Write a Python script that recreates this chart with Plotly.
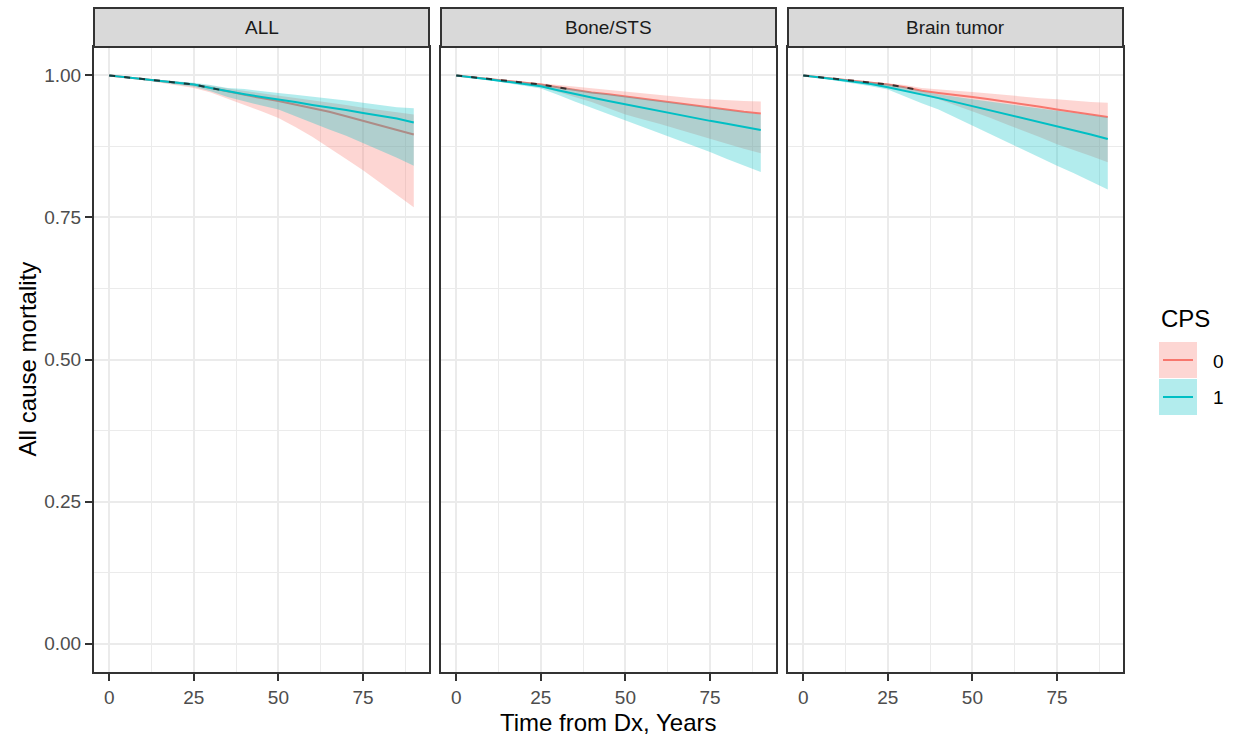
import plotly.graph_objects as go

# ---------------- data ----------------
time_years = [0, 5, 10, 15, 20, 25, 30, 35, 40, 45, 50, 55, 60, 65, 70, 75, 80, 85, 90]
panel_names = ["ALL", "Bone/STS", "Brain tumor"]
cps_levels = ["0", "1"]
x_ticks = [0, 25, 50, 75]
y_ticks = [0.0, 0.25, 0.5, 0.75, 1.0]
y_tick_labels = ["0.00", "0.25", "0.50", "0.75", "1.00"]

all_cps0_est = [1.000, 0.997, 0.993, 0.990, 0.987, 0.984, 0.978, 0.972, 0.965, 0.960, 0.955, 0.949, 0.943, 0.936, 0.928, 0.920, 0.912, 0.905, 0.896]
all_cps0_lo = [1.000, 0.996, 0.992, 0.988, 0.983, 0.978, 0.970, 0.958, 0.948, 0.937, 0.925, 0.909, 0.892, 0.873, 0.853, 0.833, 0.812, 0.790, 0.768]
all_cps0_hi = [1.000, 0.998, 0.995, 0.992, 0.989, 0.986, 0.982, 0.977, 0.973, 0.969, 0.965, 0.961, 0.957, 0.953, 0.948, 0.943, 0.939, 0.935, 0.931]
all_cps1_est = [1.000, 0.997, 0.993, 0.990, 0.987, 0.984, 0.978, 0.972, 0.967, 0.962, 0.958, 0.953, 0.948, 0.944, 0.939, 0.934, 0.929, 0.924, 0.917]
all_cps1_lo = [1.000, 0.996, 0.992, 0.988, 0.984, 0.980, 0.972, 0.962, 0.954, 0.947, 0.940, 0.929, 0.917, 0.905, 0.894, 0.882, 0.868, 0.855, 0.841]
all_cps1_hi = [1.000, 0.998, 0.995, 0.992, 0.990, 0.987, 0.983, 0.978, 0.976, 0.972, 0.969, 0.966, 0.963, 0.960, 0.956, 0.952, 0.948, 0.944, 0.942]

bone_cps0_est = [1.000, 0.997, 0.993, 0.990, 0.987, 0.984, 0.979, 0.974, 0.970, 0.967, 0.963, 0.960, 0.956, 0.952, 0.948, 0.944, 0.940, 0.936, 0.933]
bone_cps0_lo = [1.000, 0.996, 0.992, 0.988, 0.984, 0.980, 0.971, 0.962, 0.953, 0.942, 0.931, 0.923, 0.915, 0.906, 0.897, 0.888, 0.880, 0.871, 0.863]
bone_cps0_hi = [1.000, 0.998, 0.995, 0.992, 0.989, 0.987, 0.983, 0.980, 0.977, 0.974, 0.972, 0.969, 0.966, 0.963, 0.960, 0.958, 0.956, 0.955, 0.954]
bone_cps1_est = [1.000, 0.997, 0.993, 0.989, 0.985, 0.981, 0.974, 0.967, 0.961, 0.955, 0.949, 0.943, 0.937, 0.932, 0.926, 0.920, 0.915, 0.909, 0.904]
bone_cps1_lo = [1.000, 0.996, 0.991, 0.987, 0.982, 0.977, 0.966, 0.954, 0.943, 0.931, 0.920, 0.909, 0.899, 0.888, 0.876, 0.865, 0.853, 0.841, 0.830]
bone_cps1_hi = [1.000, 0.998, 0.995, 0.991, 0.988, 0.985, 0.980, 0.975, 0.971, 0.967, 0.963, 0.960, 0.956, 0.952, 0.948, 0.943, 0.939, 0.935, 0.931]

brain_cps0_est = [1.000, 0.997, 0.993, 0.990, 0.987, 0.984, 0.979, 0.973, 0.969, 0.966, 0.962, 0.958, 0.954, 0.950, 0.945, 0.940, 0.935, 0.931, 0.927]
brain_cps0_lo = [1.000, 0.996, 0.992, 0.988, 0.984, 0.980, 0.974, 0.966, 0.958, 0.948, 0.937, 0.926, 0.914, 0.902, 0.891, 0.879, 0.868, 0.858, 0.847]
brain_cps0_hi = [1.000, 0.998, 0.995, 0.992, 0.989, 0.987, 0.983, 0.978, 0.975, 0.973, 0.971, 0.968, 0.966, 0.963, 0.960, 0.958, 0.955, 0.953, 0.952]
brain_cps1_est = [1.000, 0.997, 0.993, 0.989, 0.985, 0.979, 0.973, 0.966, 0.960, 0.953, 0.946, 0.939, 0.932, 0.925, 0.917, 0.910, 0.903, 0.896, 0.888]
brain_cps1_lo = [1.000, 0.996, 0.991, 0.986, 0.981, 0.975, 0.963, 0.951, 0.940, 0.926, 0.911, 0.897, 0.883, 0.869, 0.855, 0.841, 0.828, 0.814, 0.799]
brain_cps1_hi = [1.000, 0.998, 0.995, 0.991, 0.988, 0.985, 0.979, 0.972, 0.967, 0.962, 0.958, 0.954, 0.950, 0.946, 0.941, 0.937, 0.933, 0.929, 0.926]

series = {
    "ALL": {"0": (all_cps0_est, all_cps0_lo, all_cps0_hi), "1": (all_cps1_est, all_cps1_lo, all_cps1_hi)},
    "Bone/STS": {"0": (bone_cps0_est, bone_cps0_lo, bone_cps0_hi), "1": (bone_cps1_est, bone_cps1_lo, bone_cps1_hi)},
    "Brain tumor": {"0": (brain_cps0_est, brain_cps0_lo, brain_cps0_hi), "1": (brain_cps1_est, brain_cps1_lo, brain_cps1_hi)},
}

# ---------------- style ----------------
W, H = 1236, 738
FONT = "Liberation Sans, Arial, sans-serif"
line_colors = {"0": "#F8766D", "1": "#00BFC4"}
fill_colors = {"0": "rgba(248,118,109,0.3)", "1": "rgba(0,191,196,0.3)"}
panel_px = [(94, 429), (441, 776), (788, 1123)]
plot_top_px, plot_bot_px = 47, 672
strip_top_px = 8


def px_x(p):
    return p / W


def px_y(p):
    return (H - p) / H


fig = go.Figure()
layout_axes = {}
annotations = []
shapes = []

for i, name in enumerate(panel_names):
    xa = "x" if i == 0 else f"x{i+1}"
    ya = "y" if i == 0 else f"y{i+1}"
    for lvl in cps_levels:
        est, lo, hi = series[name][lvl]
        fig.add_trace(go.Scatter(
            x=time_years + time_years[::-1], y=hi + lo[::-1], fill="toself",
            fillcolor=fill_colors[lvl], line=dict(width=0), mode="lines",
            hoverinfo="skip", showlegend=False, xaxis=xa, yaxis=ya))
        fig.add_trace(go.Scatter(
            x=time_years, y=est, mode="lines", line=dict(color=line_colors[lvl], width=2),
            name=lvl, showlegend=False, xaxis=xa, yaxis=ya))
    # dark dashes seen at early follow-up
    est0 = series[name]["0"][0]
    fig.add_trace(go.Scatter(
        x=time_years[:8], y=est0[:8], mode="lines",
        line=dict(color="rgba(25,25,25,0.8)", width=2, dash="6px,9px"),
        hoverinfo="skip", showlegend=False, xaxis=xa, yaxis=ya))

    x0, x1 = panel_px[i]
    xkey = "xaxis" if i == 0 else f"xaxis{i+1}"
    ykey = "yaxis" if i == 0 else f"yaxis{i+1}"
    layout_axes[xkey] = dict(
        domain=[px_x(x0), px_x(x1)], range=[-4.5, 94.5], anchor=ya,
        tickvals=x_ticks, ticks="outside", ticklen=7, tickwidth=2, tickcolor="#333333",
        showline=True, mirror=True, linecolor="#333333", linewidth=2,
        showgrid=True, gridcolor="#EBEBEB", gridwidth=2, zeroline=False,
        minor=dict(tickvals=[12.5, 37.5, 62.5, 87.5], showgrid=True, gridcolor="#EBEBEB", gridwidth=1),
        tickfont=dict(size=19, color="#4D4D4D", family=FONT), fixedrange=True)
    layout_axes[ykey] = dict(
        domain=[px_y(plot_bot_px), px_y(plot_top_px)], range=[-0.05, 1.05], anchor=xa,
        tickvals=y_ticks, ticktext=y_tick_labels, showticklabels=(i == 0),
        ticks="outside" if i == 0 else "", ticklen=7, tickwidth=2, tickcolor="#333333",
        showline=True, mirror=True, linecolor="#333333", linewidth=2,
        showgrid=True, gridcolor="#EBEBEB", gridwidth=2, zeroline=False,
        minor=dict(tickvals=[0.125, 0.375, 0.625, 0.875], showgrid=True, gridcolor="#EBEBEB", gridwidth=1),
        tickfont=dict(size=19, color="#4D4D4D", family=FONT), fixedrange=True)

    # strip
    shapes.append(dict(type="rect", xref="paper", yref="paper",
                       x0=px_x(x0), x1=px_x(x1), y0=px_y(plot_top_px), y1=px_y(strip_top_px),
                       fillcolor="#D9D9D9", line=dict(color="#333333", width=2), layer="above"))
    annotations.append(dict(text=name, xref="paper", yref="paper",
                            x=px_x((x0 + x1) / 2), y=px_y((strip_top_px + plot_top_px) / 2),
                            xanchor="center", yanchor="middle", showarrow=False,
                            font=dict(size=19, color="#1A1A1A", family=FONT)))

# axis titles
annotations.append(dict(text="Time from Dx, Years", xref="paper", yref="paper",
                        x=px_x((panel_px[0][0] + panel_px[2][1]) / 2), y=px_y(722),
                        xanchor="center", yanchor="middle", showarrow=False,
                        font=dict(size=24, color="#000000", family=FONT)))
annotations.append(dict(text="All cause mortality", xref="paper", yref="paper",
                        x=px_x(27), y=px_y((plot_top_px + plot_bot_px) / 2), textangle=-90,
                        xanchor="center", yanchor="middle", showarrow=False,
                        font=dict(size=24, color="#000000", family=FONT)))

# legend (drawn manually, ggplot style keys)
annotations.append(dict(text="CPS", xref="paper", yref="paper", x=px_x(1159), y=px_y(318),
                        xanchor="left", yanchor="middle", showarrow=False,
                        font=dict(size=24, color="#000000", family=FONT)))
key_tops = [342, 379]
for lvl, top in zip(cps_levels, key_tops):
    shapes.append(dict(type="rect", xref="paper", yref="paper",
                       x0=px_x(1159), x1=px_x(1197), y0=px_y(top + 36), y1=px_y(top),
                       fillcolor=fill_colors[lvl], line=dict(width=0)))
    shapes.append(dict(type="line", xref="paper", yref="paper",
                       x0=px_x(1163), x1=px_x(1193), y0=px_y(top + 18), y1=px_y(top + 18),
                       line=dict(color=line_colors[lvl], width=2)))
    annotations.append(dict(text=lvl, xref="paper", yref="paper", x=px_x(1211), y=px_y(top + 19),
                            xanchor="left", yanchor="middle", showarrow=False,
                            font=dict(size=19, color="#000000", family=FONT)))

fig.update_layout(
    width=W, height=H, autosize=False,
    margin=dict(l=0, r=0, t=0, b=0, pad=0),
    paper_bgcolor="white", plot_bgcolor="white",
    showlegend=False, annotations=annotations, shapes=shapes,
    font=dict(family=FONT),
    **layout_axes)

fig.write_html("out.html", config={"displayModeBar": False},
               post_script="document.body.style.margin='0px';document.body.style.overflow='hidden';")
